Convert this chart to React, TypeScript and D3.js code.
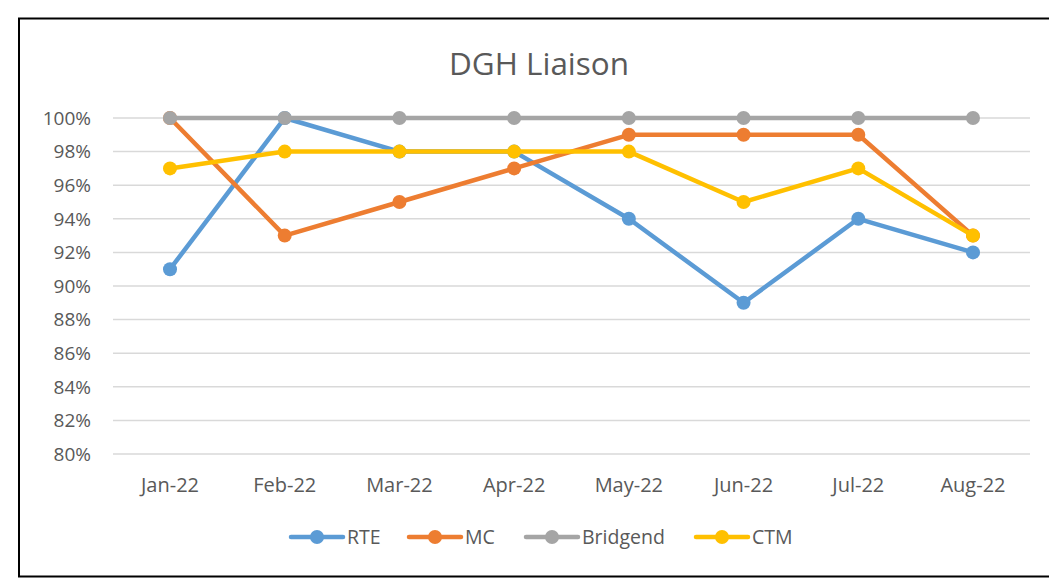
import React from "react";
import * as d3 from "d3";

const categories = ["Jan-22", "Feb-22", "Mar-22", "Apr-22", "May-22", "Jun-22", "Jul-22", "Aug-22"];
const rte = [91, 100, 98, 98, 94, 89, 94, 92];
const mc = [100, 93, 95, 97, 99, 99, 99, 93];
const bridgend = [100, 100, 100, 100, 100, 100, 100, 100];
const ctm = [97, 98, 98, 98, 98, 95, 97, 93];
const yTicks = [80, 82, 84, 86, 88, 90, 92, 94, 96, 98, 100];

const series = [
  { name: "RTE", values: rte, color: "#5B9BD5" },
  { name: "MC", values: mc, color: "#ED7D31" },
  { name: "Bridgend", values: bridgend, color: "#A5A5A5" },
  { name: "CTM", values: ctm, color: "#FFC000" },
];

const W = 1049, H = 585;
const font = "'Open Sans', 'Noto Sans', sans-serif";

export default function App() {
  const x = d3.scalePoint<string>().domain(categories).range([170, 973]);
  const y = d3.scaleLinear().domain([80, 100]).range([454, 118]);
  const line = d3.line<number>().x((_, i) => x(categories[i])!).y((d) => y(d));

  const legendX = [289, 407, 524, 694];

  return (
    <svg width={W} height={H} style={{ position: "absolute", left: 0, top: 0 }}>
      <rect x={0} y={0} width={W} height={H} fill="#fff" />
      <rect x={19} y={18.5} width={1040} height={558} fill="#fff" stroke="#000" strokeWidth={2} />
      <text x={539} y={75} textAnchor="middle" fontFamily={font} fontSize={31} fill="#595959" textLength={180} lengthAdjust="spacingAndGlyphs">
        DGH Liaison
      </text>
      {yTicks.map((t) => (
        <g key={t}>
          <line x1={113} x2={1030} y1={y(t)} y2={y(t)} stroke="#D9D9D9" strokeWidth={1.5} />
          <text x={91} y={y(t)} dy="0.36em" textAnchor="end" fontFamily={font} fontSize={19} fill="#595959">
            {t}%
          </text>
        </g>
      ))}
      {categories.map((c) => (
        <text key={c} x={x(c)!} y={492} textAnchor="middle" fontFamily={font} fontSize={20} fill="#595959">
          {c}
        </text>
      ))}
      {series.map((s) => (
        <g key={s.name}>
          <path d={line(s.values)!} fill="none" stroke={s.color} strokeWidth={4.5} strokeLinejoin="round" strokeLinecap="round" />
          {s.values.map((v, i) => (
            <circle key={i} cx={x(categories[i])!} cy={y(v)} r={7} fill={s.color} />
          ))}
        </g>
      ))}
      {series.map((s, i) => {
        const lx = legendX[i];
        return (
          <g key={s.name}>
            <line x1={lx + 2} x2={lx + 54} y1={537} y2={537} stroke={s.color} strokeWidth={4.5} strokeLinecap="round" />
            <circle cx={lx + 28} cy={537} r={7} fill={s.color} />
            <text x={lx + 58} y={537} dy="0.36em" fontFamily={font} fontSize={19.5} fill="#595959">
              {s.name}
            </text>
          </g>
        );
      })}
    </svg>
  );
}
